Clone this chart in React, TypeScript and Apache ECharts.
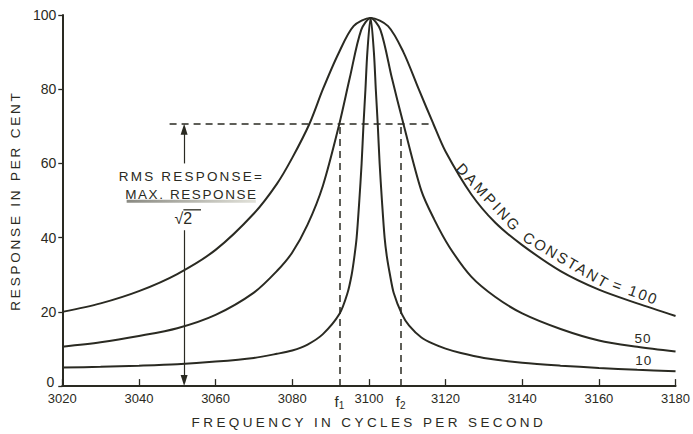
import React, { useEffect, useRef } from "react";
import * as echarts from "echarts";

// ---------- data ----------
const xTickValues = [3020, 3040, 3060, 3080, 3100, 3120, 3140, 3160, 3180];
const F1 = 3092.3;
const F2 = 3108.3;
const xLabelValues = [3020, 3040, 3060, 3080, F1, 3100, F2, 3120, 3140, 3160, 3180];
const yTickValues = [0, 20, 40, 60, 80, 100];
const RMS_LEVEL = 70.7;
const RMS_LINE_FROM = 3048;
const RMS_LINE_TO = 3116.8;
const ARROW_X = 3051.8;

const freq100 = [3020, 3030, 3040, 3050, 3060, 3070, 3076, 3080, 3084.5, 3088, 3092, 3096, 3100.45, 3105, 3109, 3113, 3116.8, 3120, 3126.7, 3133, 3140, 3150, 3160, 3170, 3180];
const resp100 = [20, 22.3, 25.6, 30.2, 36.7, 46.5, 54.5, 61.5, 70.7, 80, 89.5, 97, 99.2, 97, 90, 80, 70.7, 63.2, 51.7, 44, 38, 31, 26, 22.3, 18.9];

const freq50 = [3020, 3030, 3040, 3050, 3060, 3070, 3076, 3080, 3084, 3088, 3092.3, 3095, 3098, 3100.45, 3103, 3106, 3109, 3113.7, 3117, 3121, 3126.7, 3133, 3140, 3150, 3160, 3170, 3180];
const resp50 = [10.6, 11.8, 13.5, 15.6, 19.2, 25.2, 31, 36, 43.5, 54, 70.7, 83, 96, 99.2, 96, 83, 70.7, 52.6, 45, 37.5, 29.5, 24, 19.6, 15.4, 12.3, 10.6, 9.3];

const freq10 = [3020, 3030, 3040, 3050, 3060, 3070, 3076, 3080, 3084, 3088, 3092.3, 3094.4, 3095.5, 3096.2, 3096.8, 3097.5, 3098.1, 3098.6, 3099.1, 3099.6, 3100.45, 3101.3, 3101.8, 3102.3, 3102.8, 3103.4, 3104.1, 3104.7, 3105.5, 3106.5, 3108.6, 3110.5, 3113.7, 3117, 3120, 3124, 3130, 3140, 3150, 3160, 3170, 3180];
const resp10 = [5.0, 5.2, 5.5, 5.9, 6.6, 7.6, 8.7, 9.6, 11.2, 14.0, 19.4, 25, 30, 34.8, 40, 50, 60, 70.7, 80, 90, 99.2, 90, 80, 70.7, 60, 50, 40, 34.8, 30, 25, 19.4, 16.3, 13.1, 11.3, 10.1, 8.9, 7.6, 6.3, 5.5, 4.9, 4.4, 4.0];

const curveNames = ["100", "50", "10"];

// ---------- styling ----------
const INK = "#2a2a22";
const FONT = "Liberation Sans";

const letterSpacing: Record<string, number> = {
  "FREQUENCY IN CYCLES PER SECOND": 3.4,
  "RESPONSE IN PER CENT": 2.8,
  "RMS RESPONSE=": 2.2,
  "MAX. RESPONSE": 1.6,
  DAMPING: 2.5,
  CONSTANT: 2,
  "= 100": 2,
  "50": 1,
  "10": 1,
};

const pairs = (xs: number[], ys: number[]) => xs.map((x, i) => [x, ys[i]]);

export default function App() {
  const ref = useRef<HTMLDivElement>(null);

  useEffect(() => {
    document.body.style.margin = "0";
    const el = ref.current!;
    const chart = echarts.init(el, undefined, { renderer: "svg" });

    const applySpacing = () => {
      el.querySelectorAll("text").forEach((t) => {
        const s = letterSpacing[(t.textContent || "").trim()];
        if (s !== undefined) (t as SVGTextElement).style.letterSpacing = s + "px";
      });
    };
    chart.on("finished", applySpacing);

    const curveData = [pairs(freq100, resp100), pairs(freq50, resp50), pairs(freq10, resp10)];

    const dashed = { color: INK, width: 1.5, type: [7, 5] as any };
    const solid = { color: INK, width: 1.2, type: "solid" as any };

    const option: any = {
      animation: false,
      backgroundColor: "#ffffff",
      grid: { left: 58, right: 17, top: 15, bottom: 43 },
      xAxis: {
        type: "value",
        min: 3020,
        max: 3180,
        interval: 20,
        name: "FREQUENCY IN CYCLES PER SECOND",
        nameLocation: "middle",
        nameGap: 26,
        nameTextStyle: { color: INK, fontFamily: FONT, fontSize: 13.5 },
        axisLine: { show: true, onZero: false, lineStyle: { color: INK, width: 2 } },
        axisTick: { show: true, inside: true, length: 7, customValues: xTickValues, lineStyle: { color: INK, width: 1.3 } },
        axisLabel: {
          customValues: xLabelValues,
          margin: 6,
          color: INK,
          fontFamily: FONT,
          fontSize: 13,
          formatter: (v: number) => {
            if (Math.abs(v - F1) < 0.01) return "{f|f}{s|1}";
            if (Math.abs(v - F2) < 0.01) return "{f|f}{s|2}";
            return String(Math.round(v));
          },
          rich: {
            f: { fontSize: 15, fontFamily: FONT, color: INK, lineHeight: 18, verticalAlign: "middle" },
            s: { fontSize: 10, fontFamily: FONT, color: INK, lineHeight: 10, verticalAlign: "bottom" },
          },
        },
        splitLine: { show: false },
      },
      yAxis: {
        type: "value",
        min: 0,
        max: 100,
        interval: 20,
        name: "RESPONSE IN PER CENT",
        nameLocation: "middle",
        nameGap: 34,
        nameTextStyle: { color: INK, fontFamily: FONT, fontSize: 13.5 },
        axisLine: { show: true, lineStyle: { color: INK, width: 2 } },
        axisTick: { show: true, inside: false, length: 4, customValues: yTickValues, lineStyle: { color: INK, width: 1.3 } },
        axisLabel: {
          margin: 6,
          color: INK,
          fontFamily: FONT,
          fontSize: 14,
          formatter: (v: number) => (v === 0 ? "{z|0}" : String(v)),
          rich: { z: { fontSize: 14, fontFamily: FONT, color: INK, padding: [0, 2, 9, 0] } },
        },
        splitLine: { show: false },
      },
      series: curveNames.map((name, i) => ({
        name,
        type: "line",
        data: curveData[i],
        showSymbol: false,
        smooth: 0.3,
        silent: true,
        lineStyle: { color: INK, width: 2 },
        markLine:
          i === 0
            ? {
                silent: true,
                symbol: "none",
                label: { show: false },
                data: [
                  [
                    { coord: [RMS_LINE_FROM, RMS_LEVEL], lineStyle: dashed },
                    { coord: [RMS_LINE_TO, RMS_LEVEL] },
                  ],
                  [
                    { coord: [F1, 0], lineStyle: dashed },
                    { coord: [F1, RMS_LEVEL] },
                  ],
                  [
                    { coord: [F2, 0], lineStyle: dashed },
                    { coord: [F2, RMS_LEVEL] },
                  ],
                  [
                    { coord: [ARROW_X, 60], lineStyle: solid },
                    { coord: [ARROW_X, RMS_LEVEL - 1] },
                  ],
                  [
                    { coord: [ARROW_X, 42], lineStyle: solid },
                    { coord: [ARROW_X, 1] },
                  ],
                ],
              }
            : undefined,
      })),
    };

    chart.setOption(option);

    const P = (x: number, y: number) => chart.convertToPixel({ gridIndex: 0 }, [x, y]) as number[];
    const txt = (s: string, p: number[], size: number, rotDeg = 0) => ({
      type: "text",
      x: p[0],
      y: p[1],
      rotation: (rotDeg * Math.PI) / 180,
      silent: true,
      style: { text: s, fill: INK, font: `${size}px "${FONT}"`, align: "center", verticalAlign: "middle" },
    });
    const arrowHead = (tip: number[], dir: number) => ({
      type: "polygon",
      silent: true,
      shape: {
        points: [
          [tip[0], tip[1]],
          [tip[0] - 3.5, tip[1] + dir * 11],
          [tip[0] + 3.5, tip[1] + dir * 11],
        ],
      },
      style: { fill: INK },
    });

    const barL = P(3036.8, 49.8);
    const barR = P(3070.5, 49.8);
    const sq = P(3051.6, 45.2);
    const ovL = P(3051.6, 47.5);
    const ovR = P(3056.2, 47.5);

    chart.setOption({
      graphic: [
        arrowHead(P(ARROW_X, RMS_LEVEL), 1),
        arrowHead(P(ARROW_X, 0), -1),
        txt("RMS RESPONSE=", P(3053.7, 56.6), 13.5),
        txt("MAX. RESPONSE", P(3053.7, 51.6), 13.5),
        {
          type: "rect",
          silent: true,
          shape: { x: barL[0], y: barL[1] - 1.5, width: barR[0] - barL[0], height: 3 },
          style: {
            fill: new echarts.graphic.LinearGradient(0, 0, 1, 0, [
              { offset: 0, color: "#8a8a82" },
              { offset: 1, color: "#e2e2da" },
            ]),
          },
        },
        txt("√2", sq, 16),
        {
          type: "line",
          silent: true,
          shape: { x1: ovL[0], y1: ovL[1], x2: ovR[0], y2: ovR[1] },
          style: { stroke: INK, lineWidth: 1.3 },
        },
        txt("DAMPING", P(3131.3, 50.8), 15, -47),
        txt("CONSTANT", P(3151.5, 34.0), 15, -30),
        txt("= 100", P(3169.6, 25.4), 15, -20),
        txt("50", P(3171.5, 12.8), 13.5),
        txt("10", P(3171.7, 6.9), 13.5),
      ],
    });
    applySpacing();

    return () => {
      chart.dispose();
    };
  }, []);

  return <div ref={ref} style={{ width: 693, height: 434 }} />;
}
